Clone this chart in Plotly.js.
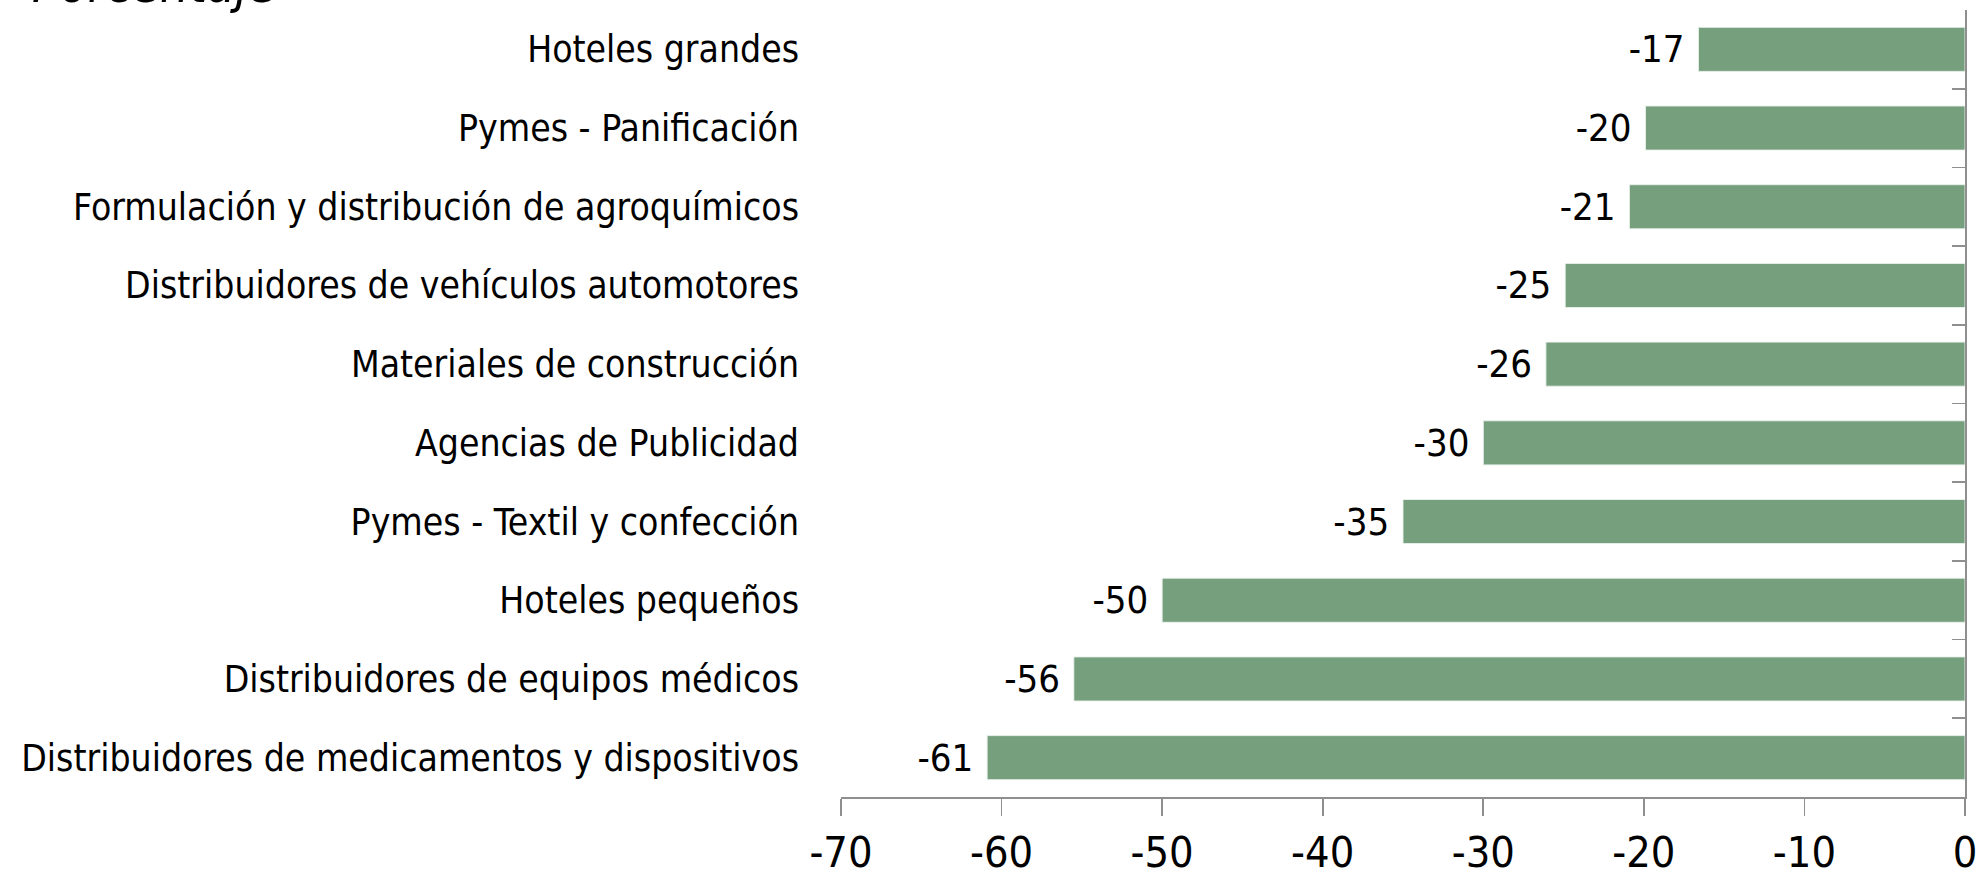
<!DOCTYPE html>
<html>
<head>
<meta charset="utf-8">
<script src="https://cdn.plot.ly/plotly-3.0.1.min.js"></script>
<style>
  html, body { margin: 0; padding: 0; background: #ffffff; }
  #chart { width: 1985px; height: 882px; }
</style>
</head>
<body>
<div id="chart"></div>
<script>
// Categories, top to bottom as shown
const categories = [
  "Hoteles grandes",
  "Pymes - Panificación",
  "Formulación y distribución de agroquímicos",
  "Distribuidores de vehículos automotores",
  "Materiales de construcción",
  "Agencias de Publicidad",
  "Pymes - Textil y confección",
  "Hoteles pequeños",
  "Distribuidores de equipos médicos",
  "Distribuidores de medicamentos y dispositivos"
];
// Values (percent)
const values = [-16.6, -19.9, -20.9, -24.9, -26.1, -30.0, -35.0, -50.0, -55.5, -60.9];
// Printed labels
const valueLabels = ["-17", "-20", "-21", "-25", "-26", "-30", "-35", "-50", "-56", "-61"];
// X-axis ticks
const xTickVals = [-70, -60, -50, -40, -30, -20, -10, 0];
const xTickText = ["-70", "-60", "-50", "-40", "-30", "-20", "-10", "0"];
const yTitle = "Porcentaje";

const labelFont = "DejaVu Sans Condensed, Liberation Sans Narrow, DejaVu Sans, sans-serif";
const numFont = "Liberation Sans Narrow, DejaVu Sans Condensed, sans-serif";
const axisGrey = "#8f8f8f";

const traces = [
  {
    type: "bar",
    orientation: "h",
    x: values,
    y: categories,
    text: valueLabels.map(t => t + "\u00a0"),
    textposition: "outside",
    cliponaxis: false,
    constraintext: "none",
    outsidetextfont: { family: numFont, size: 38, color: "#000000" },
    marker: { color: "#769f7e", line: { color: "rgba(235,242,236,0.9)", width: 1 } },
    width: 0.56,
    hoverinfo: "skip",
    xaxis: "x",
    yaxis: "y"
  },
  {
    type: "scatter",
    mode: "markers",
    x: categories.map(() => 0),
    y: categories,
    marker: { opacity: 0, size: 1 },
    hoverinfo: "skip",
    showlegend: false,
    xaxis: "x",
    yaxis: "y2"
  }
];

const layout = {
  width: 1985,
  height: 882,
  margin: { l: 841, r: 20, t: 10, b: 85, pad: 0 },
  paper_bgcolor: "#ffffff",
  plot_bgcolor: "#ffffff",
  showlegend: false,
  bargap: 0.44,
  xaxis: {
    range: [-70, 0],
    tickmode: "array",
    tickvals: xTickVals,
    ticktext: xTickText,
    showgrid: false,
    zeroline: false,
    showline: true,
    linecolor: axisGrey,
    linewidth: 1.6,
    ticks: "outside",
    ticklen: 17,
    tickwidth: 1.6,
    tickcolor: axisGrey,
    ticklabelstandoff: 0,
    tickfont: { family: numFont, size: 43, color: "#000000" },
    fixedrange: true
  },
  yaxis: {
    type: "category",
    categoryorder: "array",
    categoryarray: categories,
    range: [categories.length - 0.5, -0.5],
    showgrid: false,
    zeroline: false,
    showline: false,
    ticks: "",
    ticklabelstandoff: 41,
    tickfont: { family: labelFont, size: 37, color: "#000000" },
    fixedrange: true
  },
  yaxis2: {
    type: "category",
    categoryorder: "array",
    categoryarray: categories,
    range: [categories.length - 0.5, -0.5],
    overlaying: "y",
    side: "right",
    showgrid: false,
    zeroline: false,
    showline: true,
    linecolor: axisGrey,
    linewidth: 1.6,
    ticks: "inside",
    tickson: "boundaries",
    ticklen: 13,
    tickwidth: 1.6,
    tickcolor: axisGrey,
    showticklabels: false,
    fixedrange: true
  },
  annotations: [
    {
      text: yTitle,
      xref: "paper",
      yref: "paper",
      x: (30 - 841) / 1124,
      y: (797 - 16) / 787,
      xanchor: "left",
      yanchor: "bottom",
      showarrow: false,
      font: { family: labelFont, size: 51, style: "italic", color: "#000000" }
    }
  ]
};

Plotly.newPlot("chart", traces, layout, { displayModeBar: false, staticPlot: true });
</script>
</body>
</html>
